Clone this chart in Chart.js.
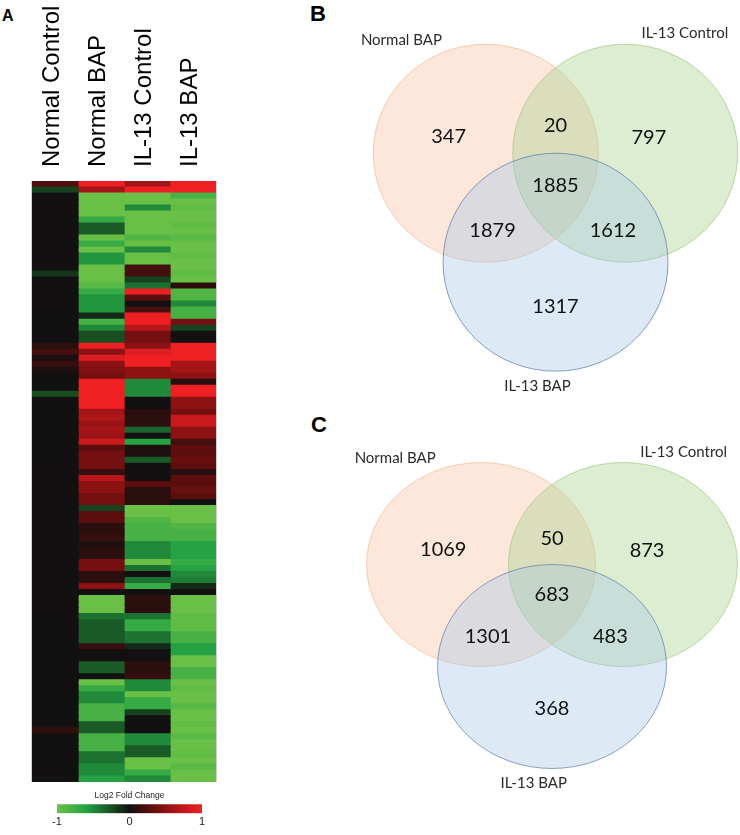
<!DOCTYPE html>
<html>
<head>
<meta charset="utf-8">
<script src="https://cdn.jsdelivr.net/npm/chart.js@4.4.0/dist/chart.umd.min.js"></script>
<style>
  body { margin: 0; background: #fff; width: 740px; height: 835px; position: relative; overflow: hidden; font-family: "Liberation Sans", Arial, sans-serif; }
  canvas, .tag { position: absolute; }
  .tag { font-weight: bold; line-height: 1; color: #000; }
</style>
</head>
<body>
<div class="tag" style="left:2px;top:8px;font-size:16px">A</div>
<div class="tag" style="left:310px;top:3px;font-size:22px">B</div>
<div class="tag" style="left:311px;top:414px;font-size:22px">C</div>
<canvas id="heatmap" width="240" height="785" style="left:0;top:0"></canvas>
<canvas id="scaleBar" width="185" height="49" style="left:40px;top:786px"></canvas>
<canvas id="vennB" width="400" height="410" style="left:340px;top:0"></canvas>
<canvas id="vennC" width="400" height="425" style="left:340px;top:410px"></canvas>
<script>
const conditions = ['Normal Control', 'Normal BAP', 'IL-13 Control', 'IL-13 BAP'];

// log2 fold change per gene band, top to bottom
const normalControl = [
  0.25, -0.2, 0, 0, 0, 0, 0, 0, 0, 0,
  0, 0, 0, 0, 0, -0.15, 0, 0, 0, 0,
  0, 0, 0, 0, 0, 0, 0, 0.1, 0.2, 0.05,
  0.15, 0.05, 0, 0, 0, -0.25, 0, 0, 0, 0,
  0, 0, 0, 0, 0, 0, 0, 0, 0, 0,
  0, 0, 0, 0, 0, 0, 0, 0, 0, 0,
  0, 0, 0, 0, 0, 0, 0, 0, 0, 0,
  0, 0, 0, 0, 0, 0, 0, 0, 0, 0,
  0, 0, 0, 0, 0, 0, 0, 0, 0, 0,
  0, 0.12, 0, 0, 0, 0, 0, 0, 0, 0
];
const normalBAP = [
  1, 0.6, -1, -1, -1, -1, -0.7, -0.3, -0.3, -1,
  -0.7, -1, -0.55, -0.55, -1, -1, -1, -0.9, -0.7, -0.55,
  -0.55, -0.55, -0.1, -0.8, -0.5, -0.25, -0.25, 1, 0.5, 0.9,
  0.5, 0.45, 0.4, 1, 1, 1, 1, 1, 0.6, 0.65,
  0.55, 0.6, 0.55, 0.8, 0.3, 0.4, 0.4, 0.4, 0.15, 0.7,
  0.5, 0.5, 0.4, 0.4, -0.2, 0.3, 0.3, 0.1, 0.1, 0.15,
  0.05, 0.1, 0.1, 0.4, 0.4, 0.1, 0.1, 0.5, 0, -1,
  -1, -1, -0.4, -0.3, -0.3, -0.3, -0.3, 0.15, 0, 0,
  -0.3, -0.3, 0, -1, -0.7, -0.5, -0.5, -0.8, -0.8, -0.8,
  -0.3, -0.3, -0.8, -0.8, -0.8, -0.4, -0.4, -0.5, -0.5, -0.6
];
const il13Control = [
  0.6, 1, -1, -1, -0.5, -1, -1, -1, -1, -0.85,
  -1, -0.5, -1, -1, 0.2, 0.2, -0.2, -0.4, 1, 0.3,
  0, 0.2, 1, 1, 0.7, 0.4, 0.4, 0.5, 0.9, 1,
  1, 0.5, 0.5, -0.5, -0.5, -0.5, 0, 0, 0.1, 0.1,
  0.1, -0.35, 0, -0.6, 0.05, 0.05, -0.3, 0, 0, 0,
  0.3, 0.1, 0.1, 0.1, -1, -1, -0.85, -0.8, -0.8, -0.8,
  -0.5, -0.5, -0.5, -1, -0.4, 0, -0.4, -0.7, 0, 0.1,
  0.1, 0.1, -0.4, -0.7, -0.7, -0.4, -0.4, -0.1, 0, 0,
  0.1, 0.1, 0.15, -0.5, -0.5, -1, -0.7, -0.7, -0.2, 0,
  0, 0, -0.5, -0.5, -0.3, -0.3, -1, -1, -0.7, -0.5
];
const il13BAP = [
  1, 1, -0.8, -1, -0.95, -1, -1, -0.95, -1, -0.9,
  -1, -1, -0.95, -1, -1, -0.95, -1, 0.1, -0.85, -0.85,
  -0.5, -0.8, -0.8, 0.4, -0.2, 0, 0, 1, 1, 1,
  0.6, 0.6, 0.5, 0.1, 1, 1, 0.5, 0.5, 0.4, 0.8,
  0.8, 0.5, 0.5, 0.2, 0.3, 0.3, 0.35, 0.3, 0.1, 0.3,
  0.3, 0.35, 0.3, 0, -1, -1, -1, -0.85, -0.8, -0.8,
  -0.6, -0.6, -0.6, -0.7, -0.6, -0.5, -0.45, -0.1, 0, -1,
  -1, -1, -0.95, -0.95, -0.95, -0.8, -0.8, -0.6, -0.6, -1,
  -1, -0.8, -0.8, -1, -0.95, -1, -1, -0.9, -1, -1,
  -0.95, -1, -0.9, -1, -1, -0.95, -1, -0.9, -1, -1
];
const foldTicks = [-1, 0, 1];

const vennSets = ['Normal BAP', 'IL-13 Control', 'IL-13 BAP'];
// regions: NB only, NB&IC, IC only, all three, NB&IB, IC&IB, IB only
const countsB = [347, 20, 797, 1885, 1879, 1612, 1317];
const countsC = [1069, 50, 873, 683, 1301, 483, 368];

// venn layout, in units of one circle radius
const setCenterX = [-0.62, 0.62, 0];
const setCenterY = [0.5, 0.5, -0.5];
const setNameX = [-1.37, 1.15, -0.16];
const setNameY = [1.54, 1.6, -1.64];
const regionX = [-0.95, 0, 0.83, 0, -0.56, 0.51, 0];
const regionY = [0.65, 0.75, 0.64, 0.205, -0.205, -0.205, -0.91];

const colorStops = [
  [-1, [106, 192, 70]],
  [-0.6, [36, 162, 68]],
  [-0.25, [24, 78, 34]],
  [0, [18, 16, 16]],
  [0.3, [92, 14, 14]],
  [0.6, [165, 20, 22]],
  [1, [238, 32, 36]]
];

const heatColor = (v) => {
  for (let i = 1; i < colorStops.length; i++) {
    const [v0, c0] = colorStops[i - 1];
    const [v1, c1] = colorStops[i];
    if (v <= v1) {
      const t = Math.max(0, (v - v0) / (v1 - v0));
      return 'rgb(' + c0.map((c, k) => Math.round(c + (c1[k] - c) * t)).join(',') + ')';
    }
  }
  return 'rgb(' + colorStops[colorStops.length - 1][1].join(',') + ')';
};

// ---- panel A: heatmap ----
const heatSeries = [normalControl, normalBAP, il13Control, il13BAP];

const columnLabels = {
  id: 'columnLabels',
  afterDraw(chart) {
    const {ctx, chartArea, scales} = chart;
    ctx.save();
    // thin frame at the sides of the map
    ctx.strokeStyle = '#cfcfcf';
    ctx.lineWidth = 1;
    ctx.beginPath();
    ctx.moveTo(chartArea.left - 0.5, chartArea.top);
    ctx.lineTo(chartArea.left - 0.5, chartArea.bottom);
    ctx.moveTo(chartArea.right + 0.5, chartArea.top);
    ctx.lineTo(chartArea.right + 0.5, chartArea.bottom);
    ctx.stroke();

    ctx.font = '24px "Liberation Sans", Arial, sans-serif';
    ctx.fillStyle = '#000';
    ctx.textAlign = 'left';
    ctx.textBaseline = 'middle';
    chart.data.labels.forEach((label, i) => {
      ctx.save();
      ctx.translate(scales.x.getPixelForValue(i) - 3, chartArea.top - 14);
      ctx.rotate(-Math.PI / 2);
      ctx.fillText(label, 0, 0);
      ctx.restore();
    });
    ctx.restore();
  }
};

new Chart(document.getElementById('heatmap'), {
  type: 'bar',
  data: {
    labels: conditions,
    datasets: heatSeries.map((values, j) => ({
      label: conditions[j],
      data: values.map((v, i) => ({ x: conditions[j], y: [i, i + 1] })),
      backgroundColor: values.map(heatColor),
      borderWidth: 0,
      inflateAmount: 0.6,
      grouped: false,
      barPercentage: 1,
      categoryPercentage: 1
    }))
  },
  options: {
    responsive: false,
    animation: false,
    events: [],
    layout: { padding: { left: 32, right: 24, top: 181, bottom: 3 } },
    plugins: { legend: { display: false }, tooltip: { enabled: false } },
    scales: {
      x: { display: false },
      y: { display: false, reverse: true, min: 0, max: normalBAP.length }
    }
  },
  plugins: [columnLabels]
});

// colour key under the heatmap
new Chart(document.getElementById('scaleBar'), {
  type: 'bar',
  data: {
    labels: [''],
    datasets: [{
      data: [[foldTicks[0], foldTicks[foldTicks.length - 1]]],
      backgroundColor: (c) => {
        const a = c.chart.chartArea;
        if (!a) return 'transparent';
        const g = c.chart.ctx.createLinearGradient(a.left, 0, a.right, 0);
        colorStops.forEach(([v, rgb]) => g.addColorStop((v + 1) / 2, 'rgb(' + rgb.join(',') + ')'));
        return g;
      },
      borderWidth: 0,
      barPercentage: 1,
      categoryPercentage: 1
    }]
  },
  options: {
    indexAxis: 'y',
    responsive: false,
    animation: false,
    events: [],
    layout: { padding: { left: 17, right: 23, bottom: 4.5 } },
    plugins: {
      legend: { display: false },
      tooltip: { enabled: false },
      title: {
        display: true,
        text: 'Log2 Fold Change',
        color: '#222',
        font: { family: '"Liberation Sans Narrow", "Liberation Sans", Arial, sans-serif', size: 8.5, weight: 'normal' },
        padding: { top: 5, bottom: 3 }
      }
    },
    scales: {
      x: {
        min: -1,
        max: 1,
        afterBuildTicks: (s) => { s.ticks = foldTicks.map(v => ({ value: v })); },
        grid: { display: false, drawTicks: false },
        border: { display: false },
        ticks: { padding: 2, color: '#222', font: { family: '"Liberation Sans Narrow", "Liberation Sans", Arial, sans-serif', size: 11 } }
      },
      y: { display: false }
    }
  }
});

// ---- panels B and C: venn diagrams ----
const setFill = ['rgba(244,177,131,0.3)', 'rgba(169,209,142,0.4)', 'rgba(157,195,230,0.35)'];
const setEdge = ['rgba(236,170,125,0.55)', 'rgba(150,195,120,0.65)', 'rgba(95,125,165,0.75)'];
const setOrder = [2, 1, 0];

const vennPlugin = {
  id: 'venn',
  beforeDatasetDraw(chart, args) {
    if (!chart.data.datasets[args.index].vennSet) return;
    const {x, y} = chart.scales;
    const k = (y.getPixelForValue(0) - y.getPixelForValue(1)) / (x.getPixelForValue(1) - x.getPixelForValue(0));
    const p = args.meta.data[0];
    const ctx = chart.ctx;
    ctx.save();
    ctx.translate(p.x, p.y);
    ctx.scale(1, k);
    ctx.translate(-p.x, -p.y);
  },
  afterDatasetDraw(chart, args) {
    if (chart.data.datasets[args.index].vennSet) chart.ctx.restore();
  },
  afterDatasetsDraw(chart) {
    const ctx = chart.ctx;
    chart.data.datasets.forEach((ds, i) => {
      if (!ds.texts) return;
      ctx.save();
      ctx.font = ds.textFont;
      ctx.fillStyle = ds.textColor;
      ctx.textAlign = 'center';
      ctx.textBaseline = 'middle';
      chart.getDatasetMeta(i).data.forEach((pt, j) => ctx.fillText(ds.texts[j], pt.x, pt.y));
      ctx.restore();
    });
  }
};

const makeVenn = (id, counts, xRange, yRange) => new Chart(document.getElementById(id), {
  type: 'scatter',
  data: {
    datasets: [
      ...vennSets.map((name, i) => ({
        label: name,
        vennSet: true,
        order: setOrder[i],
        clip: false,
        data: [{ x: setCenterX[i], y: setCenterY[i] }],
        pointRadius: (c) => c.chart.scales.x.getPixelForValue(1) - c.chart.scales.x.getPixelForValue(0),
        pointBackgroundColor: setFill[i],
        pointBorderColor: setEdge[i],
        pointBorderWidth: 1
      })),
      {
        label: 'regions',
        order: -1,
        clip: false,
        pointRadius: 0,
        data: regionX.map((x, j) => ({ x, y: regionY[j] })),
        texts: counts.map(String),
        textFont: '20px Lato',
        textColor: '#111'
      },
      {
        label: 'sets',
        order: -1,
        clip: false,
        pointRadius: 0,
        data: setNameX.map((x, j) => ({ x, y: setNameY[j] })),
        texts: vennSets,
        textFont: '15px Lato',
        textColor: '#2a2a2a'
      }
    ]
  },
  options: {
    responsive: false,
    animation: false,
    events: [],
    plugins: { legend: { display: false }, tooltip: { enabled: false } },
    scales: {
      x: { display: false, min: xRange[0], max: xRange[1] },
      y: { display: false, min: yRange[0], max: yRange[1] }
    }
  },
  plugins: [vennPlugin]
});

makeVenn('vennB', countsB, [-1.916, 1.64], [-1.856, 1.906]);
makeVenn('vennC', countsC, [-1.852, 1.642], [-2.152, 2.015]);
</script>
</body>
</html>
